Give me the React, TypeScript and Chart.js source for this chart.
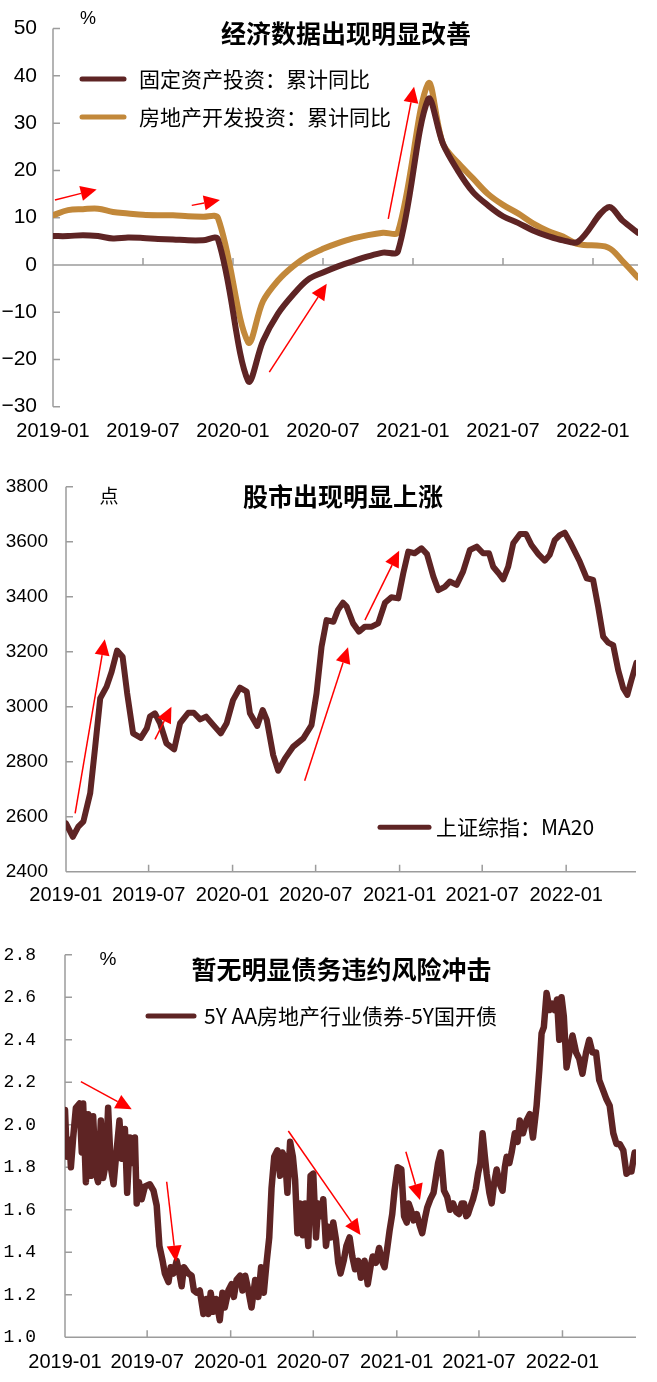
import React, { useEffect, useRef } from 'react';
import { Chart, registerables } from 'chart.js';

Chart.register(...registerables);

const CJK = '"Noto Sans CJK SC", "Noto Sans", sans-serif';
const LAT = '"Liberation Sans", Arial, sans-serif';
const MONO = '"Liberation Mono", monospace';

// ---------------- shared ----------------
const xTickLabels = ['2019-01', '2019-07', '2020-01', '2020-07', '2021-01', '2021-07', '2022-01'];

// ---------------- panel 1: investment (cumulative YoY, %) ----------------
const investDates = [
  '2019-01', '2019-02', '2019-03', '2019-04', '2019-05', '2019-06', '2019-07', '2019-08', '2019-09', '2019-10', '2019-11', '2019-12',
  '2020-02', '2020-03', '2020-04', '2020-05', '2020-06', '2020-07', '2020-08', '2020-09', '2020-10', '2020-11', '2020-12',
  '2021-02', '2021-03', '2021-04', '2021-05', '2021-06', '2021-07', '2021-08', '2021-09', '2021-10', '2021-11', '2021-12',
  '2022-02', '2022-03', '2022-04',
];
const fixedAssetYoY = [
  6.1, 6.1, 6.3, 6.1, 5.6, 5.8, 5.7, 5.5, 5.4, 5.2, 5.2, 5.4,
  -24.5, -16.1, -10.3, -6.3, -3.1, -1.6, -0.3, 0.8, 1.8, 2.6, 2.9,
  35.0, 25.6, 19.9, 15.4, 12.6, 10.3, 8.9, 7.3, 6.1, 5.2, 4.9,
  12.2, 9.3, 6.8,
];
const realEstateYoY = [
  10.5, 11.6, 11.8, 11.9, 11.2, 10.9, 10.6, 10.5, 10.5, 10.3, 10.2, 9.9,
  -16.3, -7.7, -3.3, -0.3, 1.9, 3.4, 4.6, 5.6, 6.3, 6.8, 7.0,
  38.3, 25.6, 21.6, 18.3, 15.0, 12.7, 10.9, 8.8, 7.2, 6.0, 4.4,
  3.7, 0.7, -2.7,
];
// arrows: [month index, value] -> [month index, value]
const investArrows = [
  { from: [0.13, 13.75], to: [2.91, 15.96] },
  { from: [9.25, 12.6], to: [11.13, 13.75] },
  { from: [14.42, -22.7], to: [18.25, -3.96] },
  { from: [22.35, 9.73], to: [24.07, 37.7] },
];

// ---------------- panel 2: Shanghai composite MA20 ----------------
const stockDates = [
  '2019-01-01', '2019-01-16', '2019-01-28', '2019-02-08', '2019-02-23', '2019-03-06', '2019-03-17', '2019-03-31',
  '2019-04-11', '2019-04-23', '2019-05-05', '2019-05-15', '2019-05-28', '2019-06-14', '2019-06-27', '2019-07-04',
  '2019-07-15', '2019-07-26', '2019-08-09', '2019-08-26', '2019-09-08', '2019-09-26', '2019-10-08', '2019-10-22',
  '2019-11-04', '2019-11-20', '2019-12-06', '2019-12-19', '2020-01-02', '2020-01-17', '2020-02-01', '2020-02-08',
  '2020-02-24', '2020-03-07', '2020-03-16', '2020-03-30', '2020-04-10', '2020-04-25', '2020-05-13', '2020-06-04',
  '2020-06-22', '2020-07-03', '2020-07-14', '2020-07-25', '2020-08-09', '2020-08-19', '2020-08-30', '2020-09-07',
  '2020-09-21', '2020-10-04', '2020-10-17', '2020-11-01', '2020-11-15', '2020-11-30', '2020-12-14', '2020-12-29',
  '2021-01-09', '2021-01-20', '2021-02-03', '2021-02-18', '2021-03-02', '2021-03-16', '2021-03-27', '2021-04-10',
  '2021-04-21', '2021-05-06', '2021-05-20', '2021-06-04', '2021-06-19', '2021-07-03', '2021-07-16', '2021-07-25',
  '2021-08-05', '2021-08-16', '2021-08-27', '2021-09-07', '2021-09-22', '2021-10-05', '2021-10-17', '2021-11-01',
  '2021-11-15', '2021-11-26', '2021-12-07', '2021-12-18', '2021-12-29', '2022-01-09', '2022-01-20', '2022-01-31',
  '2022-02-15', '2022-03-01', '2022-03-12', '2022-03-23', '2022-04-03', '2022-04-14', '2022-04-25', '2022-05-06',
  '2022-05-15', '2022-05-24', '2022-06-04',
];
const shanghaiMA20 = [
  2576, 2527, 2564, 2582, 2685, 2855, 3031, 3073,
  3127, 3204, 3182, 3049, 2903, 2887, 2921, 2964,
  2976, 2940, 2867, 2845, 2940, 2978, 2978, 2954,
  2964, 2933, 2903, 2940, 3024, 3069, 3055, 2976,
  2930, 2988, 2952, 2824, 2767, 2812, 2855, 2885,
  2933, 3049, 3218, 3315, 3309, 3352, 3378, 3364,
  3303, 3273, 3291, 3291, 3303, 3378, 3398, 3394,
  3485, 3564, 3558, 3576, 3555, 3473, 3424, 3436,
  3455, 3443, 3491, 3570, 3582, 3558, 3558, 3509,
  3487, 3463, 3509, 3594, 3628, 3628, 3588, 3555,
  3531, 3552, 3606, 3624, 3633, 3600, 3564, 3527,
  3467, 3461, 3364, 3255, 3233, 3224, 3133, 3067,
  3043, 3097, 3160,
];
const stockEnd = '2022-06-03';
// arrows: [day offset from 2019-01-01, value]
const stockArrows = [
  { from: [20, 2612], to: [85, 3245] },
  { from: [195, 2881], to: [231, 3000] },
  { from: [523, 2731], to: [618, 3216] },
  { from: [655, 3315], to: [730, 3567] },
];

// ---------------- panel 3: 5Y AA real-estate bond minus 5Y CDB (%) ----------------
// days since 2019-01-01
const bondDayOffsets = [
  0, 4, 10, 13, 18, 24, 32, 37, 40, 46, 51, 57, 62, 68, 73, 79, 84, 90, 95, 101,
  107, 112, 120, 125, 132, 137, 143, 149, 154, 158, 163, 169, 176, 187, 195, 202, 208, 215, 220, 228,
  233, 239, 246, 252, 257, 262, 272, 279, 284, 290, 297, 305, 311, 316, 321, 327, 333, 341, 347, 352,
  360, 367, 372, 378, 386, 391, 397, 404, 411, 419, 426, 432, 438, 444, 450, 455, 461, 468, 474, 479,
  485, 490, 496, 502, 507, 512, 518, 524, 529, 536, 541, 547, 553, 558, 564, 569, 575, 580, 586, 591,
  597, 602, 607, 614, 620, 627, 633, 639, 646, 652, 660, 667, 673, 678, 685, 692, 698, 704, 710, 715,
  721, 726, 733, 741, 747, 753, 757, 762, 768, 775, 781, 787, 793, 798, 805, 812, 817, 822, 828, 835,
  842, 848, 855, 862, 868, 874, 879, 884, 888, 894, 899, 905, 910, 915, 920, 925, 929, 935, 940, 945,
  951, 958, 964, 969, 973, 979, 984, 991, 997, 1002, 1009, 1017, 1024, 1031, 1039, 1045, 1050, 1055, 1061, 1068,
  1074, 1079, 1084, 1089, 1094, 1099, 1105, 1112, 1118, 1126, 1133, 1140, 1148, 1155, 1162, 1170, 1177, 1186, 1193, 1200,
  1208, 1215, 1222, 1230, 1237, 1243, 1248, 1255,
];
const bondSpread = [
  2.07, 1.85, 1.93, 1.80, 1.94, 2.08, 2.10, 1.87, 2.10, 1.73, 2.05, 1.76, 2.04, 1.77, 1.73, 2.02, 1.75, 1.82, 2.08, 1.80,
  1.72, 1.84, 2.02, 1.84, 1.98, 1.68, 1.94, 1.82, 1.94, 1.63, 1.73, 1.65, 1.71, 1.72, 1.69, 1.62, 1.43, 1.36, 1.30, 1.26,
  1.33, 1.30, 1.36, 1.30, 1.24, 1.33, 1.30, 1.29, 1.22, 1.21, 1.22, 1.11, 1.18, 1.11, 1.21, 1.12, 1.18, 1.08, 1.21, 1.14,
  1.22, 1.25, 1.19, 1.27, 1.29, 1.22, 1.29, 1.22, 1.14, 1.27, 1.19, 1.33, 1.21, 1.35, 1.47, 1.70, 1.85, 1.88, 1.76, 1.87,
  1.84, 1.68, 1.92, 1.85, 1.74, 1.49, 1.63, 1.48, 1.63, 1.43, 1.76, 1.77, 1.47, 1.63, 1.57, 1.65, 1.43, 1.52, 1.47, 1.54,
  1.46, 1.35, 1.30, 1.36, 1.43, 1.47, 1.38, 1.32, 1.36, 1.28, 1.36, 1.25, 1.33, 1.38, 1.35, 1.42, 1.36, 1.33, 1.42, 1.50,
  1.58, 1.69, 1.80, 1.79, 1.57, 1.54, 1.63, 1.60, 1.55, 1.58, 1.53, 1.49, 1.56, 1.61, 1.65, 1.68, 1.75, 1.82, 1.87, 1.69,
  1.66, 1.60, 1.63, 1.59, 1.58, 1.63, 1.63, 1.57, 1.58, 1.62, 1.65, 1.70, 1.77, 1.82, 1.96, 1.85, 1.77, 1.68, 1.63, 1.72,
  1.79, 1.72, 1.69, 1.80, 1.85, 1.82, 1.87, 1.96, 1.92, 2.02, 1.96, 2.02, 2.05, 1.94, 2.09, 2.26, 2.43, 2.46, 2.62, 2.54,
  2.57, 2.54, 2.59, 2.40, 2.60, 2.51, 2.27, 2.35, 2.42, 2.34, 2.31, 2.24, 2.34, 2.40, 2.34, 2.34, 2.21, 2.16, 2.12, 2.09,
  1.96, 1.91, 1.91, 1.88, 1.77, 1.78, 1.78, 1.87,
];
const bondEndOffset = 1258;
const bondArrows = [
  { from: [35, 2.203], to: [147, 2.073] },
  { from: [224, 1.732], to: [244.5, 1.356] },
  { from: [492, 1.971], to: [651, 1.481] },
  { from: [751, 1.873], to: [782, 1.646] },
];

// ---------------- helpers ----------------
const monthIndex = (s: string) => {
  const [y, m] = s.split('-').map(Number);
  return (y - 2019) * 12 + (m - 1);
};
const dayIndex = (s: string) => {
  const [y, m, d] = s.split('-').map(Number);
  return Math.round((Date.UTC(y, m - 1, d || 1) - Date.UTC(2019, 0, 1)) / 864e5);
};

const DARK = '#5E2424';
const GOLD = '#C2883A';
const AXIS = '#9C9C9C';
const RED = '#FF0000';

type Arrow = { from: number[]; to: number[] };
type LegendItem = { label: string; color: string; x1: number; x2: number; y: number; tx: number };
type Panel = {
  height: number;
  area: { left: number; top: number; right: number; bottom: number };
  xMin: number; xMax: number; xTicks: number[];
  yMin: number; yMax: number; yStep: number;
  yFont: any; yPad: number; yFmt: (v: number) => string;
  xPad: number;
  baseline: number;
  datasets: any[];
  arrows: Arrow[];
  title: { text: string; x: number; y: number };
  unit: { text: string; x: number; y: number; font: string; align: CanvasTextAlign };
  legend: LegendItem[];
};

function decorations(p: Panel) {
  return {
    id: 'decorations',
    beforeDatasetsDraw(chart: any) {
      const { ctx, chartArea: a } = chart;
      const x = chart.scales.x;
      const y = chart.scales.y;
      ctx.save();
      ctx.strokeStyle = AXIS;
      ctx.lineWidth = 1.5;
      ctx.beginPath();
      ctx.moveTo(a.left, a.top);
      ctx.lineTo(a.left, a.bottom);
      y.ticks.forEach((t: any) => {
        const py = y.getPixelForValue(t.value);
        ctx.moveTo(a.left, py);
        ctx.lineTo(a.left + 7, py);
      });
      const py0 = y.getPixelForValue(p.baseline);
      ctx.moveTo(a.left, py0);
      ctx.lineTo(a.right, py0);
      x.ticks.forEach((t: any) => {
        const px = x.getPixelForValue(t.value);
        if (px > a.left + 2) {
          ctx.moveTo(px, py0);
          ctx.lineTo(px, py0 - 7);
        }
      });
      ctx.stroke();
      ctx.restore();
    },
    afterDatasetsDraw(chart: any) {
      const { ctx } = chart;
      const x = chart.scales.x;
      const y = chart.scales.y;
      ctx.save();
      p.arrows.forEach((ar) => {
        const x1 = x.getPixelForValue(ar.from[0]);
        const y1 = y.getPixelForValue(ar.from[1]);
        const x2 = x.getPixelForValue(ar.to[0]);
        const y2 = y.getPixelForValue(ar.to[1]);
        const len = Math.hypot(x2 - x1, y2 - y1);
        const ux = (x2 - x1) / len;
        const uy = (y2 - y1) / len;
        const L = 16;
        const W = 7.5;
        const bx = x2 - ux * L;
        const by = y2 - uy * L;
        ctx.strokeStyle = RED;
        ctx.lineWidth = 1.5;
        ctx.beginPath();
        ctx.moveTo(x1, y1);
        ctx.lineTo(bx, by);
        ctx.stroke();
        ctx.fillStyle = RED;
        ctx.beginPath();
        ctx.moveTo(x2, y2);
        ctx.lineTo(bx - uy * W, by + ux * W);
        ctx.lineTo(bx + uy * W, by - ux * W);
        ctx.closePath();
        ctx.fill();
      });
      ctx.restore();
    },
    afterDraw(chart: any) {
      const { ctx } = chart;
      ctx.save();
      ctx.fillStyle = '#000';
      ctx.textBaseline = 'middle';
      ctx.font = `bold 25px ${CJK}`;
      ctx.textAlign = 'center';
      ctx.fillText(p.title.text, p.title.x, p.title.y);
      ctx.font = p.unit.font;
      ctx.textAlign = p.unit.align;
      ctx.fillText(p.unit.text, p.unit.x, p.unit.y);
      p.legend.forEach((l) => {
        ctx.strokeStyle = l.color;
        ctx.lineWidth = 5;
        ctx.lineCap = 'round';
        ctx.beginPath();
        ctx.moveTo(l.x1, l.y);
        ctx.lineTo(l.x2, l.y);
        ctx.stroke();
        ctx.fillStyle = '#000';
        ctx.font = `21px ${CJK}`;
        ctx.textAlign = 'left';
        ctx.fillText(l.label, l.tx, l.y);
      });
      ctx.restore();
    },
  };
}

function makeConfig(p: Panel): any {
  return {
    type: 'line',
    data: { datasets: p.datasets },
    options: {
      responsive: false,
      maintainAspectRatio: false,
      animation: false,
      devicePixelRatio: 1,
      events: [],
      layout: { padding: { top: p.area.top, right: 657 - p.area.right, bottom: 0, left: 0 } },
      plugins: { legend: { display: false }, tooltip: { enabled: false }, title: { display: false } },
      elements: { point: { radius: 0 } },
      scales: {
        x: {
          type: 'linear',
          min: p.xMin,
          max: p.xMax,
          grid: { display: false, drawTicks: false },
          border: { display: false },
          ticks: {
            autoSkip: false,
            maxRotation: 0,
            padding: p.xPad,
            color: '#000',
            font: { family: LAT, size: 20 },
            callback: (_v: number, i: number) => xTickLabels[i],
          },
          afterBuildTicks: (s: any) => {
            s.ticks = p.xTicks.map((v) => ({ value: v }));
          },
          afterFit: (s: any) => {
            s.height = p.height - p.area.bottom;
          },
        },
        y: {
          type: 'linear',
          min: p.yMin,
          max: p.yMax,
          grid: { display: false, drawTicks: false },
          border: { display: false },
          ticks: {
            stepSize: p.yStep,
            padding: p.yPad,
            color: '#000',
            font: p.yFont,
            callback: (v: number) => p.yFmt(v),
          },
          afterFit: (s: any) => {
            s.width = p.area.left;
          },
        },
      },
    },
    plugins: [decorations(p)],
  };
}

const lineDs = (label: string, xs: number[], ys: number[], color: string, width: number, tension: number) => ({
  label,
  data: xs.map((x, i) => ({ x, y: ys[i] })),
  borderColor: color,
  backgroundColor: color,
  borderWidth: width,
  tension,
  fill: false,
  borderJoinStyle: 'round',
  borderCapStyle: 'round',
  pointRadius: 0,
});

const investX = investDates.map(monthIndex);
const panel1: Panel = {
  height: 450,
  area: { left: 53, top: 22.7, right: 638, bottom: 406.7 },
  xMin: 0,
  xMax: monthIndex(investDates[investDates.length - 1]),
  xTicks: xTickLabels.map(monthIndex),
  yMin: -30, yMax: 50, yStep: 10,
  yFont: { family: LAT, size: 21 },
  yPad: 16,
  yFmt: (v) => (v < 0 ? '\u2212' + Math.abs(v) : String(v)),
  xPad: 13,
  baseline: 0,
  datasets: [
    lineDs('固定资产投资：累计同比', investX, fixedAssetYoY, DARK, 6, 0.35),
    lineDs('房地产开发投资：累计同比', investX, realEstateYoY, GOLD, 6, 0.35),
  ],
  arrows: investArrows,
  title: { text: '经济数据出现明显改善', x: 346, y: 33 },
  unit: { text: '%', x: 80, y: 19, font: `18px ${LAT}`, align: 'left' },
  legend: [
    { label: '固定资产投资：累计同比', color: DARK, x1: 82, x2: 124, y: 79, tx: 139 },
    { label: '房地产开发投资：累计同比', color: GOLD, x1: 82, x2: 124, y: 117, tx: 139 },
  ],
};

const panel2: Panel = {
  height: 465,
  area: { left: 66, top: 36.7, right: 636, bottom: 421.7 },
  xMin: 0,
  xMax: dayIndex(stockEnd),
  xTicks: xTickLabels.map(dayIndex),
  yMin: 2400, yMax: 3800, yStep: 200,
  yFont: { family: LAT, size: 19 },
  yPad: 18,
  yFmt: (v) => String(v),
  xPad: 12,
  baseline: 2400,
  datasets: [lineDs('上证综指：MA20', stockDates.map(dayIndex), shanghaiMA20, DARK, 6, 0)],
  arrows: stockArrows,
  title: { text: '股市出现明显上涨', x: 343, y: 46 },
  unit: { text: '点', x: 109, y: 45.5, font: `19px ${CJK}`, align: 'center' },
  legend: [{ label: '上证综指：MA20', color: DARK, x1: 380, x2: 429, y: 377.3, tx: 436 }],
};

const panel3: Panel = {
  height: 467,
  area: { left: 65, top: 39.8, right: 636, bottom: 422.3 },
  xMin: 0,
  xMax: bondEndOffset,
  xTicks: xTickLabels.map(dayIndex),
  yMin: 1.0, yMax: 2.8, yStep: 0.2,
  yFont: { family: MONO, size: 18 },
  yPad: 29,
  yFmt: (v) => v.toFixed(1),
  xPad: 13,
  baseline: 1.0,
  datasets: [lineDs('5Y AA房地产行业债券-5Y国开债', bondDayOffsets, bondSpread, DARK, 6.5, 0)],
  arrows: bondArrows,
  title: { text: '暂无明显债务违约风险冲击', x: 341.5, y: 54 },
  unit: { text: '%', x: 108, y: 44.5, font: `19px ${LAT}`, align: 'center' },
  legend: [{ label: '5Y AA房地产行业债券-5Y国开债', color: DARK, x1: 148, x2: 194, y: 101, tx: 204 }],
};

function PanelChart({ panel, top }: { panel: Panel; top: number }) {
  const ref = useRef<HTMLCanvasElement>(null);
  useEffect(() => {
    if (!ref.current) return;
    const chart = new Chart(ref.current, makeConfig(panel));
    return () => chart.destroy();
  }, [panel]);
  return (
    <canvas
      ref={ref}
      width={657}
      height={panel.height}
      style={{ position: 'absolute', left: 0, top, width: 657, height: panel.height, display: 'block' }}
    />
  );
}

export default function App() {
  return (
    <div style={{ position: 'absolute', left: 0, top: 0, width: 657, height: 1382, background: '#fff', overflow: 'hidden' }}>
      <PanelChart panel={panel1} top={0} />
      <PanelChart panel={panel2} top={450} />
      <PanelChart panel={panel3} top={915} />
    </div>
  );
}
